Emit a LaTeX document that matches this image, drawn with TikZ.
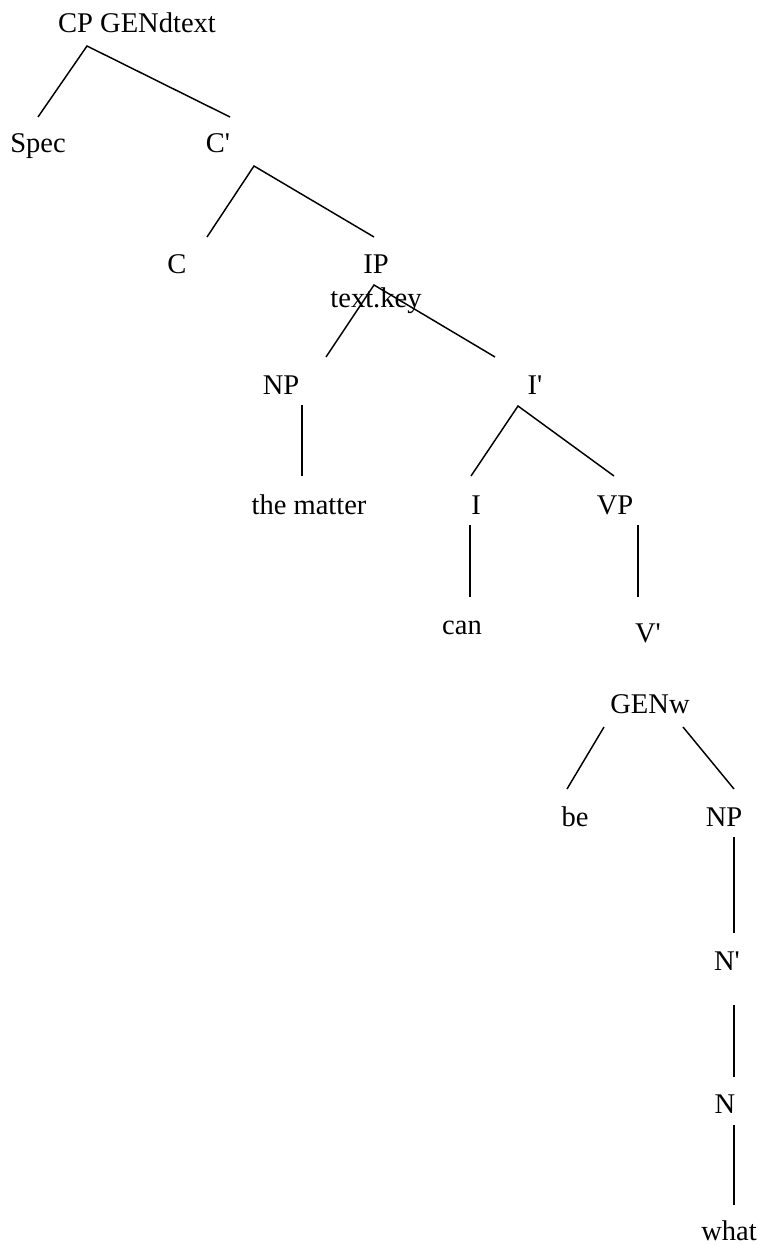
\documentclass[tikz,border=0pt]{standalone}
\usepackage{fontspec}
\setmainfont{Liberation Serif}[Ligatures=TeXOff]

\tikzset{
  lbl/.style={anchor=base, inner sep=0pt, font=\fontsize{21.4pt}{24pt}\selectfont},
  branch/.style={black, line width=1.1pt}
}

\begin{document}
\begin{tikzpicture}[x=0.75pt, y=-0.75pt]
				\useasboundingbox (0,0) rectangle (757,1244);

				% Метки узлов дерева
				\node[lbl] (cp) at (137,33) {CP GENdtext};
				\node[lbl] (spec) at (38,153) {Spec};
				\node[lbl] (cbar) at (218,153) {C'};
				\node[lbl] (c) at (177,274) {C};
				\node[lbl] (ip) at (376,274) {IP};
				\node[lbl] (key) at (376,307) {text.key};
				\node[lbl] (np) at (281,394) {NP};
				\node[lbl] (ibar) at (535,394) {I'};
				\node[lbl] (matter) at (309,514) {the matter};
				\node[lbl] (i) at (476,514) {I};
				\node[lbl] (vp) at (615,514) {VP};
				\node[lbl] (can) at (462,634) {can};
				\node[lbl] (vbar) at (648,642) {V'};
				\node[lbl] (genw) at (650,713) {GENw};
				\node[lbl] (be) at (575,826) {be};
				\node[lbl] (npw) at (724,826) {NP};
				\node[lbl] (nbar) at (727,970) {N'};
				\node[lbl] (n) at (725,1113) {N};
				\node[lbl] (what) at (729,1240) {what};

				% Точки ветвления и концы ветвей
				\coordinate (cp-fork) at (87,46);
				\coordinate (spec-tip) at (38,117);
				\coordinate (cbar-tip) at (230,117);
				\coordinate (cbar-fork) at (254,166);
				\coordinate (c-tip) at (207,237);
				\coordinate (ip-tip) at (374,237);
				\coordinate (ip-fork) at (374,285);
				\coordinate (np-tip) at (326,357);
				\coordinate (ibar-tip) at (495,357);
				\coordinate (np-foot) at (302,405);
				\coordinate (matter-tip) at (302,476);
				\coordinate (ibar-fork) at (518,406);
				\coordinate (i-tip) at (471,476);
				\coordinate (vp-tip) at (614,476);
				\coordinate (i-foot) at (470,525);
				\coordinate (can-tip) at (470,597);
				\coordinate (vp-foot) at (638,525);
				\coordinate (vbar-tip) at (638,597);
				\coordinate (genw-left) at (604,727);
				\coordinate (be-tip) at (567,789);
				\coordinate (genw-right) at (683,727);
				\coordinate (npw-tip) at (734,789);
				\coordinate (npw-foot) at (734,837);
				\coordinate (nbar-tip) at (734,933);
				\coordinate (nbar-foot) at (734,1005);
				\coordinate (n-tip) at (734,1077);
				\coordinate (n-foot) at (734,1125);
				\coordinate (what-tip) at (734,1205);

				% Ветви
				\draw[branch] (spec-tip) -- (cp-fork) -- (cbar-tip);
				\draw[branch] (c-tip) -- (cbar-fork) -- (ip-tip);
				\draw[branch] (np-tip) -- (ip-fork) -- (ibar-tip);
				\draw[branch] (np-foot) -- (matter-tip);
				\draw[branch] (i-tip) -- (ibar-fork) -- (vp-tip);
				\draw[branch] (i-foot) -- (can-tip);
				\draw[branch] (vp-foot) -- (vbar-tip);
				\draw[branch] (genw-left) -- (be-tip);
				\draw[branch] (genw-right) -- (npw-tip);
				\draw[branch] (npw-foot) -- (nbar-tip);
				\draw[branch] (nbar-foot) -- (n-tip);
				\draw[branch] (n-foot) -- (what-tip);
			\end{tikzpicture}
\end{document}
